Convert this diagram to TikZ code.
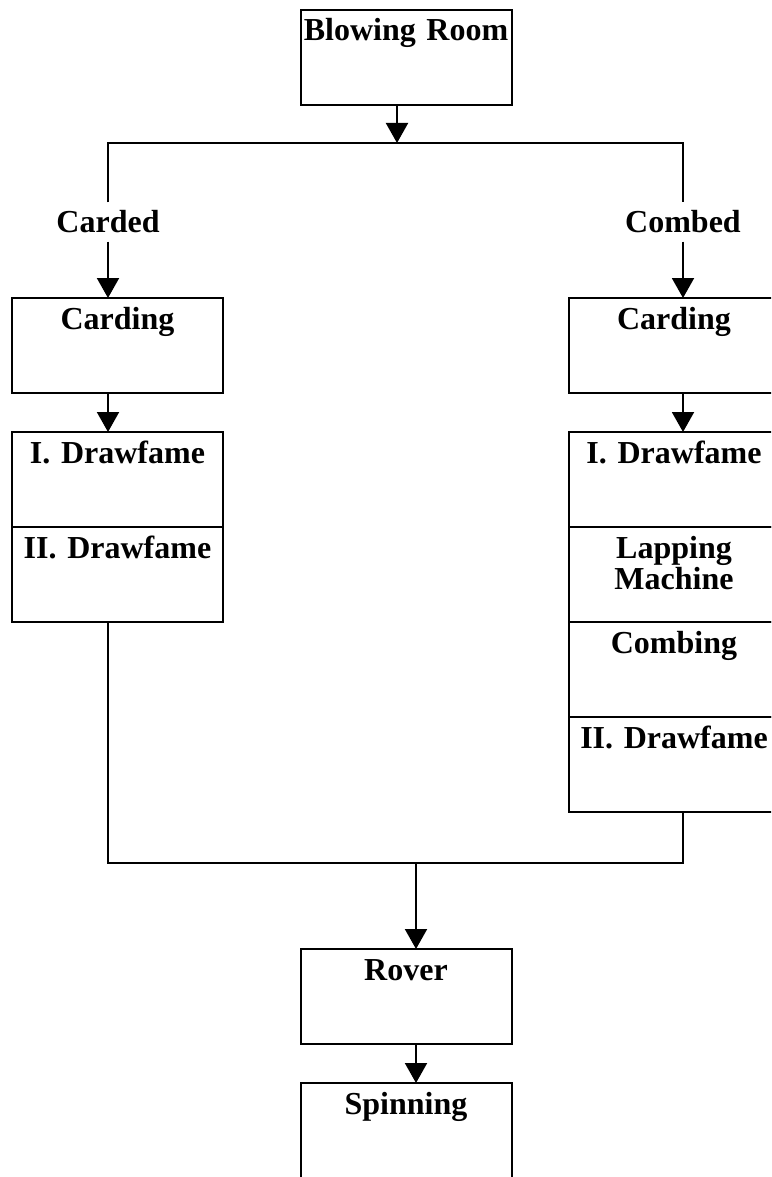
\documentclass[tikz,border=0pt]{standalone}
\usepackage{fontspec}
\setmainfont{Liberation Serif}
\usetikzlibrary{positioning,arrows.meta}

\begin{document}
\begin{tikzpicture}[x=0.5pt, y=-0.5pt,
  node distance=19.5pt,
  machine/.style={draw, line width=1pt, inner sep=0pt, outer sep=0pt,
                  text width=105.5pt, align=center, text height=15.5pt, text depth=32pt,
                  font=\fontsize{16}{14}\selectfont\bfseries},
  route/.style={inner sep=4pt, font=\fontsize{16}{14}\selectfont\bfseries},
  wire/.style={line width=1pt},
  arr/.style={wire, -{Triangle[length=10pt, width=11pt]}}]
\path[use as bounding box] (0,0) rectangle (771,1177);
\clip (0,0) rectangle (771,1177);
% top
\node[machine] (blow) at (406,57.5) {Blowing Room};
\coordinate (split) at (397,143);
\node[route] (carded) at (108,222) {Carded};
\node[route] (combed) at (683,222) {Combed};
% carded line
\node[machine] (cardL) at (117.5,345.5) {Carding};
\node[machine, below=of cardL] (drawL1) {I. Drawfame};
\node[machine, below=0pt of drawL1] (drawL2) {II. Drawfame};
% combed line
\node[machine] (cardR) at (674,345.5) {Carding};
\node[machine, below=of cardR] (drawR1) {I. Drawfame};
\node[machine, below=0pt of drawR1] (lap) {Lapping\\Machine};
\node[machine, below=0pt of lap] (comb) {Combing};
\node[machine, below=0pt of comb] (drawR2) {II. Drawfame};
% bottom
\coordinate (merge) at (416,863);
\node[machine] (rover) at (406,996.5) {Rover};
\node[machine, below=of rover] (spin) {Spinning};
\draw[arr] (blow.south -| split) -- (split);
\draw[wire] (carded) |- (split) -| (combed);
\draw[arr] (carded) -- (carded |- cardL.north);
\draw[arr] (combed) -- (combed |- cardR.north);
\draw[arr] (cardL.south -| carded) -- (drawL1.north -| carded);
\draw[arr] (cardR.south -| combed) -- (drawR1.north -| combed);
\draw[wire] (drawL2.south -| carded) |- (merge) -| (drawR2.south -| combed);
\draw[arr] (merge) -- (merge |- rover.north);
\draw[arr] (rover.south -| merge) -- (spin.north -| merge);
\end{tikzpicture}
\end{document}
